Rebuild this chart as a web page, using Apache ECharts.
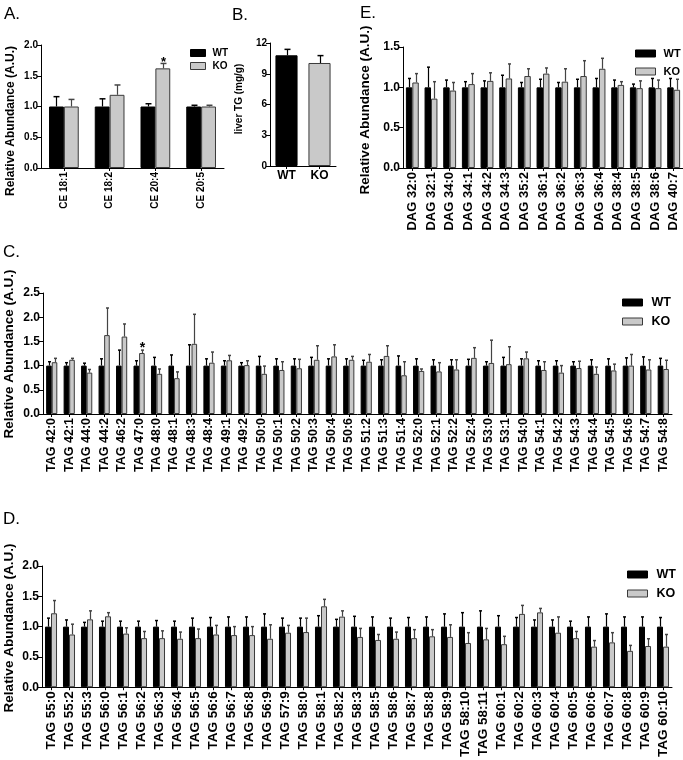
<!DOCTYPE html>
<html>
<head>
<meta charset="utf-8">
<script src="https://cdn.jsdelivr.net/npm/echarts@6/dist/echarts.min.js"></script>
<style>
html,body{margin:0;padding:0;background:#fff;}
#chart{width:683px;height:760px;}
</style>
</head>
<body>
<div id="chart"></div>
<script>
// ---------- DATA ----------
// Panel A: cholesteryl esters
const ceCats = ['CE 18:1', 'CE 18:2', 'CE 20:4', 'CE 20:5'];
const ceWT = [1.0, 1.0, 1.0, 1.0];
const ceWTsem = [0.16, 0.125, 0.045, 0.02];
const ceKO = [1.0, 1.19, 1.62, 1.0];
const ceKOsem = [0.115, 0.16, 0.08, 0.02];
const ceStar = [0, 0, 1, 0];

// Panel B: liver TG
const tgCats = ['WT', 'KO'];
const tgVals = [10.8, 10.05];
const tgSem = [0.58, 0.72];

// Panel E: DAG species
const dagCats = ['DAG 32:0','DAG 32:1','DAG 34:0','DAG 34:1','DAG 34:2','DAG 34:3','DAG 35:2','DAG 36:1','DAG 36:2','DAG 36:3','DAG 36:4','DAG 38:4','DAG 38:5','DAG 38:6','DAG 40:7'];
const dagWT = [1,1,1,1,1,1,1,1,1,1,1,1,1,1,1];
const dagWTsem = [0.11,0.25,0.09,0.07,0.08,0.15,0.06,0.10,0.06,0.10,0.11,0.09,0.04,0.11,0.11];
const dagKO = [1.06,0.86,0.96,1.04,1.08,1.11,1.14,1.17,1.07,1.14,1.23,1.03,0.99,0.99,0.97];
const dagKOsem = [0.11,0.21,0.10,0.13,0.10,0.18,0.09,0.07,0.16,0.19,0.13,0.04,0.09,0.10,0.13];

// Panel C: TAG species (1)
const tag1Cats = ['TAG 42:0','TAG 42:1','TAG 44:0','TAG 44:2','TAG 46:2','TAG 47:0','TAG 48:0','TAG 48:1','TAG 48:3','TAG 48:4','TAG 49:1','TAG 49:2','TAG 50:0','TAG 50:1','TAG 50:2','TAG 50:3','TAG 50:4','TAG 50:6','TAG 51:2','TAG 51:3','TAG 51:4','TAG 52:0','TAG 52:1','TAG 52:2','TAG 52:4','TAG 53:0','TAG 53:1','TAG 54:0','TAG 54:1','TAG 54:2','TAG 54:3','TAG 54:4','TAG 54:5','TAG 54:6','TAG 54:7','TAG 54:8'];
const tag1WT = [1,1,1,1,1,1,1,1,1,1,1,1,1,1,1,1,1,1,1,1,1,1,1,1,1,1,1,1,1,1,1,1,1,1,1,1];
const tag1WTsem = [0.08,0.06,0.05,0.14,0.32,0.10,0.17,0.22,0.43,0.14,0.10,0.06,0.19,0.14,0.14,0.17,0.14,0.14,0.11,0.12,0.20,0.14,0.12,0.12,0.13,0.08,0.17,0.14,0.10,0.10,0.08,0.12,0.14,0.16,0.18,0.15];
const tag1KO = [1.07,1.12,0.855,1.63,1.60,1.26,0.83,0.74,1.45,1.06,1.11,1.01,0.83,0.91,0.945,1.12,1.19,1.12,1.08,1.20,0.80,0.89,0.88,0.92,1.16,1.055,1.03,1.15,0.91,0.855,0.95,0.83,0.90,1.0,0.92,0.93];
const tag1KOsem = [0.08,0.03,0.065,0.56,0.26,0.06,0.10,0.13,0.61,0.22,0.10,0.09,0.16,0.17,0.185,0.29,0.24,0.07,0.15,0.21,0.28,0.04,0.18,0.20,0.21,0.47,0.36,0.13,0.17,0.145,0.14,0.14,0.13,0.23,0.20,0.18];
const tag1Star = [0,0,0,0,0,1,0,0,0,0,0,0,0,0,0,0,0,0,0,0,0,0,0,0,0,0,0,0,0,0,0,0,0,0,0,0];

// Panel D: TAG species (2)
const tag2Cats = ['TAG 55:0','TAG 55:2','TAG 55:3','TAG 56:0','TAG 56:1','TAG 56:2','TAG 56:3','TAG 56:4','TAG 56:5','TAG 56:6','TAG 56:7','TAG 56:8','TAG 56:9','TAG 57:9','TAG 58:0','TAG 58:1','TAG 58:2','TAG 58:3','TAG 58:5','TAG 58:6','TAG 58:7','TAG 58:8','TAG 58:9','TAG 58:10','TAG 58:11','TAG 60:1','TAG 60:2','TAG 60:3','TAG 60:4','TAG 60:5','TAG 60:6','TAG 60:7','TAG 60:8','TAG 60:9','TAG 60:10'];
const tag2WT = [1,1,1,1,1,1,1,1,1,1,1,1,1,1,1,1,1,1,1,1,1,1,1,1,1,1,1,1,1,1,1,1,1,1,1];
const tag2WTsem = [0.14,0.11,0.07,0.09,0.09,0.09,0.10,0.09,0.14,0.15,0.16,0.16,0.21,0.14,0.14,0.18,0.12,0.17,0.16,0.14,0.15,0.16,0.21,0.23,0.26,0.18,0.15,0.11,0.11,0.09,0.16,0.21,0.16,0.16,0.15];
const tag2KO = [1.22,0.87,1.12,1.17,0.885,0.81,0.81,0.80,0.81,0.87,0.86,0.86,0.80,0.90,0.91,1.335,1.165,0.83,0.78,0.80,0.81,0.84,0.83,0.73,0.79,0.71,1.21,1.235,0.90,0.81,0.67,0.74,0.60,0.68,0.67];
const tag2KOsem = [0.21,0.17,0.14,0.06,0.095,0.11,0.12,0.11,0.15,0.15,0.14,0.14,0.23,0.12,0.23,0.115,0.095,0.14,0.09,0.11,0.14,0.11,0.20,0.17,0.18,0.13,0.14,0.065,0.26,0.11,0.10,0.16,0.09,0.12,0.20];

// ---------- STYLE ----------
const FONT = '"Liberation Sans", Arial, Helvetica, sans-serif';
const WT_COLOR = '#000000';
const KO_COLOR = '#c9c9c9';
const KO_BORDER = '#3a3a3a';

function errRenderer(sign, gap, color, starSize) {
  return function (params, api) {
    const i = api.value(0), v = api.value(1), top = api.value(2), star = api.value(3);
    const base = api.coord([i, v]);
    const tp = api.coord([i, top]);
    const band = api.size([1, 0])[0];
    const nBars = sign === 0 ? 1 : 2;
    const bw = band * (1 - gap) / nBars;
    const x = Math.round(base[0] + sign * bw / 2) + 0.5;
    const cap = Math.max(3, Math.min(6, bw * 0.4));
    const children = [
      {type: 'line', shape: {x1: x, y1: base[1], x2: x, y2: tp[1]}, style: {stroke: color, lineWidth: 1.2}},
      {type: 'line', shape: {x1: x - cap / 2, y1: tp[1], x2: x + cap / 2, y2: tp[1]}, style: {stroke: color, lineWidth: 1.5}}
    ];
    if (star) {
      children.push({type: 'text', style: {text: '*', x: x, y: tp[1] + 5, textAlign: 'center', textVerticalAlign: 'bottom', font: 'bold ' + starSize + 'px ' + FONT, fill: '#000'}});
    }
    return {type: 'group', children: children};
  };
}

function errData(vals, sem, stars) {
  return vals.map((v, i) => [i, v, v + sem[i], stars ? stars[i] : 0]);
}

function yAx(gi, max, interval, fs, dec) {
  return {
    type: 'value', gridIndex: gi, min: 0, max: max, interval: interval,
    axisLine: {show: true, lineStyle: {color: '#000', width: 1}},
    axisTick: {show: true, length: 4, lineStyle: {color: '#000'}},
    splitLine: {show: false},
    axisLabel: {color: '#000', fontFamily: FONT, fontWeight: 'bold', fontSize: fs, margin: 3,
      formatter: v => v.toFixed(dec)}
  };
}
function xAx(gi, cats, fs, rotate) {
  return {
    type: 'category', gridIndex: gi, data: cats,
    axisLine: {show: true, lineStyle: {color: '#000', width: 1}},
    axisTick: {show: true, alignWithLabel: true, length: 3, lineStyle: {color: '#000'}},
    axisLabel: {color: '#000', fontFamily: FONT, fontWeight: 'bold', fontSize: fs, interval: 0, rotate: rotate, margin: 4}
  };
}

function panelSeries(gi, wt, wtSem, ko, koSem, koStar, gap, starSize) {
  return [
    {name: 'WT', type: 'bar', xAxisIndex: gi, yAxisIndex: gi, data: wt, barGap: '0%', barCategoryGap: (gap * 100) + '%',
      itemStyle: {color: WT_COLOR, borderColor: '#000', borderWidth: 1}, silent: true, animation: false},
    {name: 'KO', type: 'bar', xAxisIndex: gi, yAxisIndex: gi, data: ko, barGap: '0%', barCategoryGap: (gap * 100) + '%',
      itemStyle: {color: KO_COLOR, borderColor: KO_BORDER, borderWidth: 1}, silent: true, animation: false},
    {name: 'WT SEM', type: 'custom', xAxisIndex: gi, yAxisIndex: gi, renderItem: errRenderer(-1, gap, '#000', starSize),
      data: errData(wt, wtSem), encode: {x: 0, y: [1, 2]}, z: 5, silent: true, animation: false},
    {name: 'KO SEM', type: 'custom', xAxisIndex: gi, yAxisIndex: gi, renderItem: errRenderer(1, gap, '#444', starSize),
      data: errData(ko, koSem, koStar), encode: {x: 0, y: [1, 2]}, z: 5, silent: true, animation: false}
  ];
}

function legend(left, top, fs, iw, gap, textPad) {
  return {
    orient: 'vertical', left: left, top: top, itemWidth: iw, itemHeight: 7, itemGap: gap,
    selectedMode: false,
    data: [
      {name: 'WT', icon: 'rect', itemStyle: {color: WT_COLOR, borderColor: '#000', borderWidth: 1}},
      {name: 'KO', icon: 'rect', itemStyle: {color: KO_COLOR, borderColor: KO_BORDER, borderWidth: 1}}
    ],
    textStyle: {color: '#000', fontFamily: FONT, fontWeight: 'bold', fontSize: fs, padding: [0, 0, 0, textPad]}
  };
}

function vtitle(text, x, y, fs) {
  return {type: 'text', x: x, y: y, rotation: Math.PI / 2,
    style: {text: text, textAlign: 'center', textVerticalAlign: 'middle', font: 'bold ' + fs + 'px ' + FONT, fill: '#000'}};
}
function plabel(text, x, y) {
  return {type: 'text', x: x, y: y,
    style: {text: text, textAlign: 'left', textVerticalAlign: 'top', font: '17px ' + FONT, fill: '#000'}};
}

const chart = echarts.init(document.getElementById('chart'), null, {renderer: 'canvas'});
const option = {
  animation: false,
  backgroundColor: '#fff',
  grid: [
    {left: 41, top: 45, width: 183, height: 123},   // A
    {left: 270, top: 43, width: 66, height: 123},   // B
    {left: 403, top: 47, width: 280, height: 121},  // E
    {left: 43, top: 293, width: 629, height: 121},  // C
    {left: 42, top: 566, width: 630, height: 122}   // D
  ],
  xAxis: [
    xAx(0, ceCats, 10, 90),
    xAx(1, tgCats, 12, 0),
    xAx(2, dagCats, 13, 90),
    xAx(3, tag1Cats, 12.5, 90),
    xAx(4, tag2Cats, 13.5, 90)
  ],
  yAxis: [
    yAx(0, 2, 0.5, 10, 1),
    yAx(1, 12, 3, 10, 0),
    yAx(2, 1.5, 0.5, 12, 1),
    yAx(3, 2.5, 0.5, 12, 1),
    yAx(4, 2, 0.5, 12, 1)
  ],
  legend: [
    legend(185, 43, 10, 15, 3, 2),
    legend(630, 43, 11, 20, 7, 3),
    legend(617, 291, 12.5, 20, 6, 4),
    legend(622, 563, 12.5, 20, 6, 4)
  ],
  series: [].concat(
    panelSeries(0, ceWT, ceWTsem, ceKO, ceKOsem, ceStar, 0.35, 13),
    [
      {name: 'liver TG', type: 'bar', xAxisIndex: 1, yAxisIndex: 1, barCategoryGap: '33%', silent: true,
        data: tgVals.map((v, i) => ({value: v, itemStyle: i === 0 ? {color: WT_COLOR, borderColor: '#000', borderWidth: 1} : {color: KO_COLOR, borderColor: KO_BORDER, borderWidth: 1}}))},
      {name: 'liver TG SEM', type: 'custom', xAxisIndex: 1, yAxisIndex: 1, renderItem: errRenderer(0, 0.33, '#000', 13),
        data: errData(tgVals, tgSem), encode: {x: 0, y: [1, 2]}, z: 5, silent: true}
    ],
    panelSeries(2, dagWT, dagWTsem, dagKO, dagKOsem, null, 0.31, 13),
    panelSeries(3, tag1WT, tag1WTsem, tag1KO, tag1KOsem, tag1Star, 0.36, 14),
    panelSeries(4, tag2WT, tag2WTsem, tag2KO, tag2KOsem, null, 0.33, 14)
  ),
  graphic: [
    plabel('A.', 4, 6),
    plabel('B.', 232, 7),
    plabel('E.', 360, 5),
    plabel('C.', 3, 244),
    plabel('D.', 3, 511),
    vtitle('Relative Abundance (A.U.)', 11, 121, 12),
    vtitle('liver TG (mg/g)', 239, 99, 10),
    vtitle('Relative Abundance (A.U.)', 365, 110, 13.5),
    vtitle('Relative Abundance (A.U.)', 9, 354, 13.5),
    vtitle('Relative Abundance (A.U.)', 9, 628, 13.5)
  ]
};
chart.setOption(option);
</script>
</body>
</html>
